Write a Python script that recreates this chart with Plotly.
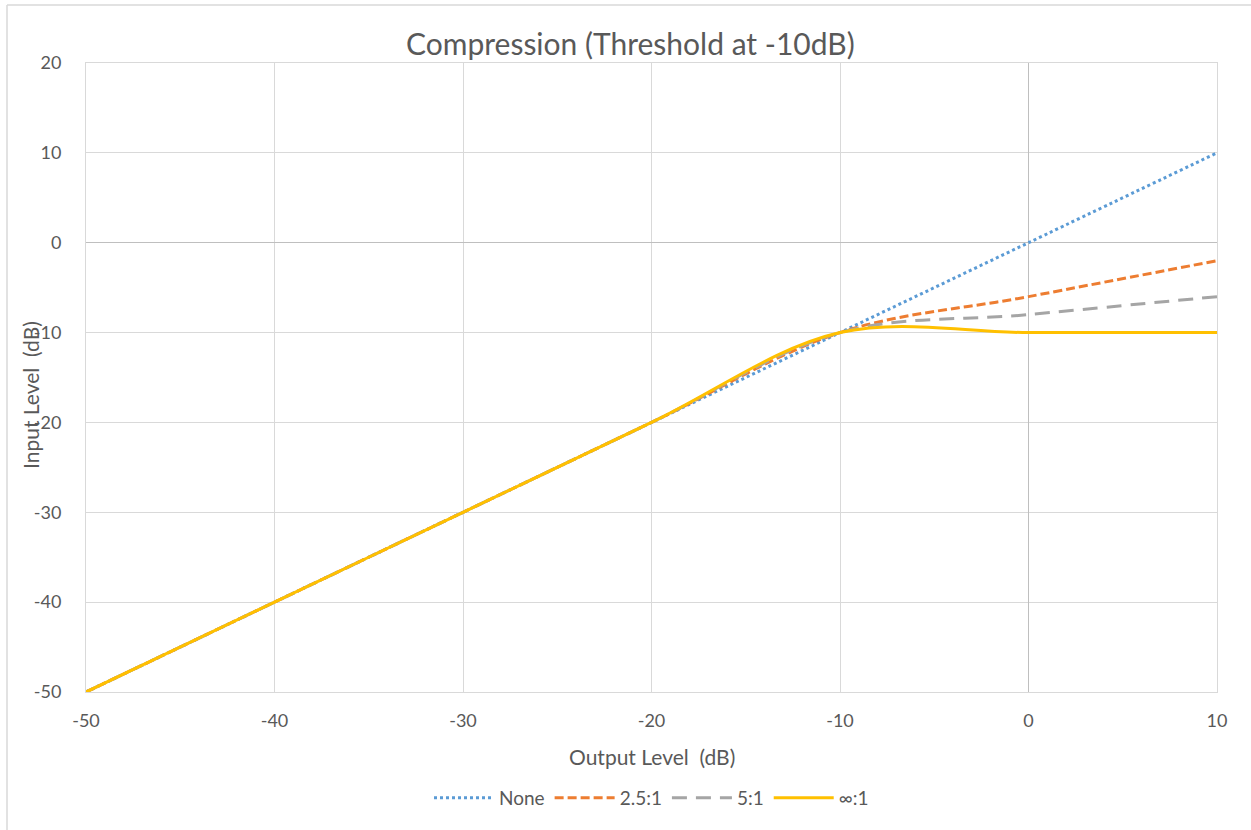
import plotly.graph_objects as go

# Data
x_vals = [-50, -40, -30, -20, -10, 0, 10]
none_vals = [-50, -40, -30, -20, -10, 0, 10]
r25_vals = [-50, -40, -30, -20, -10, -6, -2]
r5_vals = [-50, -40, -30, -20, -10, -8, -6]
rinf_vals = [-50, -40, -30, -20, -10, -10, -10]
series_names = ["None", "2.5:1", "5:1", "∞:1"]
x_ticks = [-50, -40, -30, -20, -10, 0, 10]
x_tick_labels = ["-50", "-40", "-30", "-20", "-10", "0", "10"]
y_ticks = [-50, -40, -30, -20, -10, 0, 10, 20]
y_tick_labels = ["-50", "-40", "-30", "-20", "-10", "0", "10", "20"]

W, H = 1251, 830
L, R, T, B = 86, 34, 63, 138
pw, ph = W - L - R, H - T - B

def px2x(p):
    return (p - L) / pw

def px2y(p):
    return (H - B - p) / ph

FONT = "Lato, 'Open Sans', sans-serif"
TXT = "#595959"

fig = go.Figure()
styles = [
    dict(color="#5b9bd5", dash="dot"),
    dict(color="#ed7d31", dash="9px,4px"),
    dict(color="#a5a5a5", dash="15px,9px"),
    dict(color="#ffc000", dash="solid"),
]
for name, ys, st in zip(series_names, [none_vals, r25_vals, r5_vals, rinf_vals], styles):
    fig.add_trace(go.Scatter(
        x=x_vals, y=ys, name=name, mode="lines",
        line=dict(color=st["color"], dash=st["dash"], width=3, shape="spline", smoothing=1),
    ))

axis_common = dict(
    showgrid=True, gridcolor="#d9d9d9", gridwidth=1,
    zeroline=True, zerolinecolor="#bfbfbf", zerolinewidth=1.3,
    showline=True, linecolor="#d9d9d9", linewidth=1, mirror=True,
    ticks="", tickfont=dict(family=FONT, size=18, color=TXT),
)
fig.update_xaxes(range=[-50, 10], tickvals=x_ticks, ticktext=x_tick_labels,
                 ticklabelstandoff=12, **axis_common)
fig.update_yaxes(range=[-50, 20], tickvals=y_ticks, ticktext=y_tick_labels,
                 ticklabelstandoff=20, **axis_common)

fig.update_layout(
    width=W, height=H,
    margin=dict(l=L, r=R, t=T, b=B),
    paper_bgcolor="white", plot_bgcolor="white",
    font=dict(family=FONT, color=TXT),
    showlegend=True,
    legend=dict(
        orientation="h", x=0.5, xanchor="center", y=px2y(798), yanchor="middle",
        font=dict(family=FONT, size=19, color=TXT), itemwidth=60,
        bgcolor="rgba(0,0,0,0)",
    ),
    annotations=[
        dict(text="Compression (Threshold at -10dB)", x=px2x(630), y=px2y(43),
             xref="paper", yref="paper", showarrow=False,
             font=dict(family=FONT, size=30, color=TXT), xanchor="center", yanchor="middle"),
        dict(text="Output Level\u00a0 (dB)", x=px2x(652), y=px2y(757),
             xref="paper", yref="paper", showarrow=False,
             font=dict(family=FONT, size=21, color=TXT), xanchor="center", yanchor="middle"),
        dict(text="Input Level\u00a0 (dB)", x=px2x(30), y=px2y(395), textangle=-90,
             xref="paper", yref="paper", showarrow=False,
             font=dict(family=FONT, size=21, color=TXT), xanchor="center", yanchor="middle"),
    ],
    shapes=[
        dict(type="line", xref="paper", yref="paper",
             x0=px2x(7), x1=px2x(W + 5), y0=px2y(5), y1=px2y(5),
             line=dict(color="#d9d9d9", width=1.5)),
        dict(type="line", xref="paper", yref="paper",
             x0=px2x(7), x1=px2x(7), y0=px2y(5), y1=px2y(H + 5),
             line=dict(color="#d9d9d9", width=1.5)),
    ],
)

fig.write_html("out.html")
